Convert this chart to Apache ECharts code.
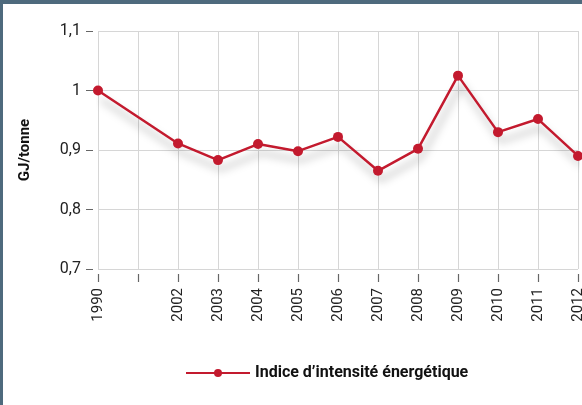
<!DOCTYPE html>
<html>
<head>
<meta charset="utf-8">
<script src="https://cdn.jsdelivr.net/npm/echarts@6/dist/echarts.min.js"></script>
<style>
  html, body { margin: 0; padding: 0; background: #fff; }
  #chart { width: 582px; height: 405px; }
</style>
</head>
<body>
<div id="chart"></div>
<script>
// Data
const years = ['1990', '', '2002', '2003', '2004', '2005', '2006', '2007', '2008', '2009', '2010', '2011', '2012'];
const intensity = [1.0, null, 0.911, 0.883, 0.910, 0.898, 0.922, 0.865, 0.902, 1.025, 0.930, 0.952, 0.890];
const seriesName = 'Indice d\u2019intensité énergétique';
const red = '#c31a2e';
const condensed = '"Liberation Sans Narrow", "Roboto", sans-serif';

const chart = echarts.init(document.getElementById('chart'));

chart.setOption({
  animation: false,
  graphic: [
    { type: 'rect', shape: { x: 0, y: 0, width: 582, height: 4 }, style: { fill: '#4e6a7d' } },
    { type: 'rect', shape: { x: 0, y: 0, width: 3, height: 405 }, style: { fill: '#4e6a7d' } }
  ],
  grid: { left: 98, top: 31, right: 4, bottom: 136, containLabel: false, outerBoundsMode: 'none' },
  legend: {
    data: [seriesName],
    left: 180,
    top: 360,
    itemWidth: 64,
    itemHeight: 10,
    itemGap: 12,
    textStyle: { fontFamily: condensed, fontSize: 16, fontWeight: 'bold', color: '#111' }
  },
  xAxis: {
    type: 'category',
    data: years,
    boundaryGap: false,
    offset: 5,
    axisLine: { show: false },
    axisTick: { show: true, length: 8, lineStyle: { color: '#666', width: 1.2 } },
    axisLabel: {
      rotate: 90,
      interval: 0,
      margin: 14,
      fontFamily: condensed,
      fontSize: 15,
      color: '#222'
    },
    splitLine: { show: true, lineStyle: { color: '#d6d6d6', width: 1 } }
  },
  yAxis: {
    type: 'value',
    min: 0.7,
    max: 1.1,
    interval: 0.1,
    offset: 5,
    name: 'GJ/tonne',
    nameLocation: 'middle',
    nameGap: 60,
    nameTextStyle: { fontFamily: condensed, fontSize: 15, fontWeight: 'bold', color: '#111' },
    axisLine: { show: false },
    axisTick: { show: true, length: 7, lineStyle: { color: '#666', width: 1 } },
    axisLabel: {
      margin: 12,
      fontFamily: condensed,
      fontSize: 16,
      color: '#222',
      formatter: v => String(Math.round(v * 10) / 10).replace('.', ',')
    },
    splitLine: { show: true, lineStyle: { color: '#d6d6d6', width: 1 } }
  },
  series: [{
    name: seriesName,
    type: 'line',
    data: intensity,
    connectNulls: true,
    symbol: 'circle',
    symbolSize: 10,
    itemStyle: { color: red },
    lineStyle: {
      color: red,
      width: 2.5,
      shadowColor: 'rgba(0,0,0,0.35)',
      shadowBlur: 9,
      shadowOffsetX: 3,
      shadowOffsetY: 9
    }
  }]
});
</script>
</body>
</html>
